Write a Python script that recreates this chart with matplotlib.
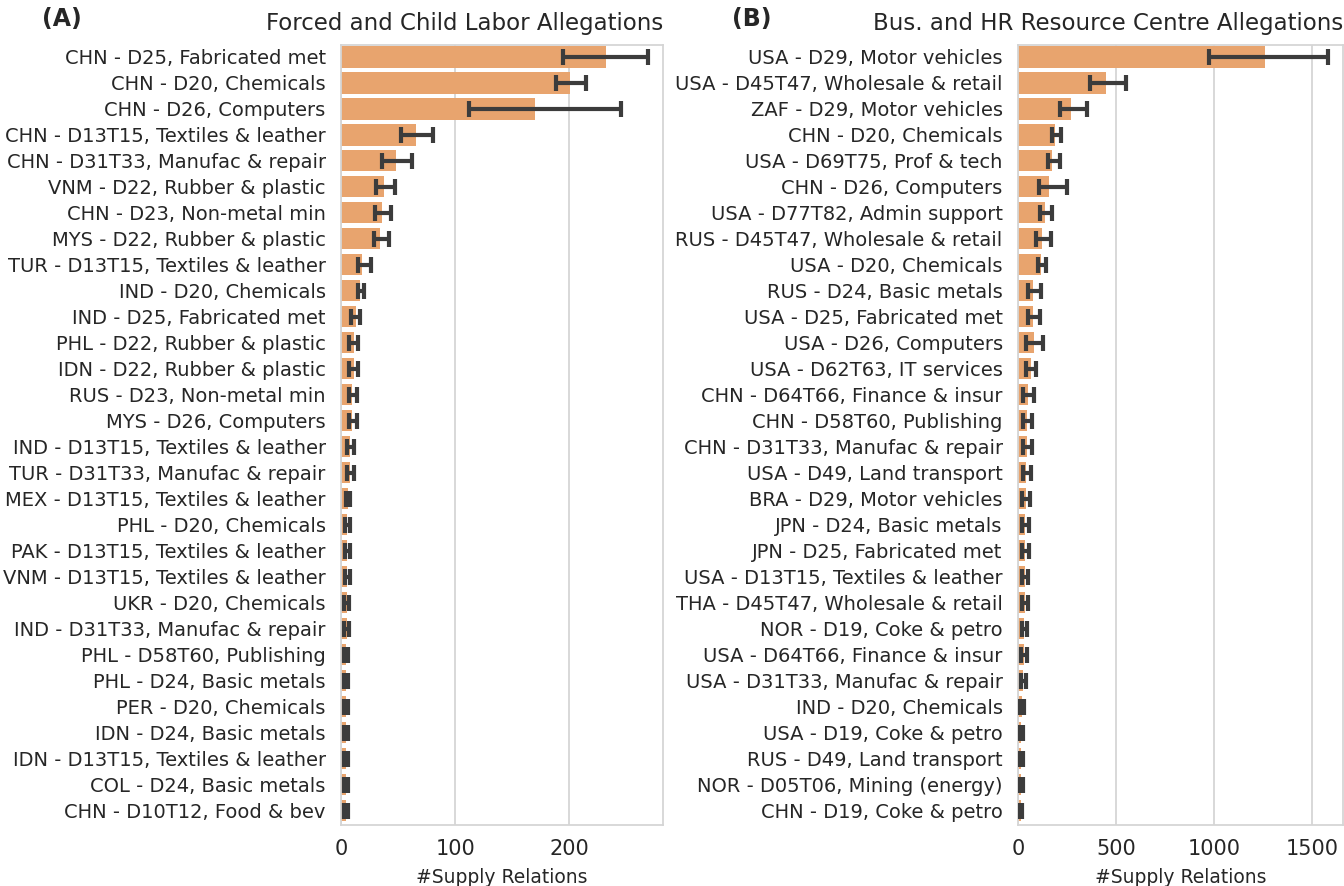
"""
Supply relations per country-sector for two allegation types.
"""

import matplotlib
matplotlib.use("Agg")
import matplotlib.pyplot as plt
import numpy as np

# --- panel A: forced and child labor allegations ---
labels_a = [
    "CHN - D25, Fabricated met", "CHN - D20, Chemicals", "CHN - D26, Computers",
    "CHN - D13T15, Textiles & leather", "CHN - D31T33, Manufac & repair",
    "VNM - D22, Rubber & plastic", "CHN - D23, Non-metal min",
    "MYS - D22, Rubber & plastic", "TUR - D13T15, Textiles & leather",
    "IND - D20, Chemicals", "IND - D25, Fabricated met",
    "PHL - D22, Rubber & plastic", "IDN - D22, Rubber & plastic",
    "RUS - D23, Non-metal min", "MYS - D26, Computers",
    "IND - D13T15, Textiles & leather", "TUR - D31T33, Manufac & repair",
    "MEX - D13T15, Textiles & leather", "PHL - D20, Chemicals",
    "PAK - D13T15, Textiles & leather", "VNM - D13T15, Textiles & leather",
    "UKR - D20, Chemicals", "IND - D31T33, Manufac & repair",
    "PHL - D58T60, Publishing", "PHL - D24, Basic metals",
    "PER - D20, Chemicals", "IDN - D24, Basic metals",
    "IDN - D13T15, Textiles & leather", "COL - D24, Basic metals",
    "CHN - D10T12, Food & bev",
]
values_a = [232, 201, 170, 66, 48, 38, 36, 34, 18, 17, 13, 11, 11, 10, 10,
            8, 8, 6, 5.5, 5.5, 5.5, 5, 5, 4.5, 4.5, 4.5, 4.5, 4, 4, 4]
ci_lo_a = [194, 188, 112, 53, 36, 31, 30, 29, 15, 15, 9, 7, 7, 7, 7,
           5, 5, 4, 3.5, 3.5, 3.5, 3, 3, 3, 3, 3, 3, 2.5, 2.5, 2.5]
ci_hi_a = [269, 215, 245, 81, 62, 47, 44, 42, 26, 20, 17, 15, 15, 14, 14,
           11, 11, 8, 7.5, 7.5, 7.5, 7, 7, 6.5, 6.5, 6.5, 6.5, 6, 6, 6]

# --- panel B: business and human rights resource centre allegations ---
labels_b = [
    "USA - D29, Motor vehicles", "USA - D45T47, Wholesale & retail",
    "ZAF - D29, Motor vehicles", "CHN - D20, Chemicals",
    "USA - D69T75, Prof & tech", "CHN - D26, Computers",
    "USA - D77T82, Admin support", "RUS - D45T47, Wholesale & retail",
    "USA - D20, Chemicals", "RUS - D24, Basic metals",
    "USA - D25, Fabricated met", "USA - D26, Computers",
    "USA - D62T63, IT services", "CHN - D64T66, Finance & insur",
    "CHN - D58T60, Publishing", "CHN - D31T33, Manufac & repair",
    "USA - D49, Land transport", "BRA - D29, Motor vehicles",
    "JPN - D24, Basic metals", "JPN - D25, Fabricated met",
    "USA - D13T15, Textiles & leather", "THA - D45T47, Wholesale & retail",
    "NOR - D19, Coke & petro", "USA - D64T66, Finance & insur",
    "USA - D31T33, Manufac & repair", "IND - D20, Chemicals",
    "USA - D19, Coke & petro", "RUS - D49, Land transport",
    "NOR - D05T06, Mining (energy)", "CHN - D19, Coke & petro",
]
values_b = [1261, 447, 269, 190, 175, 160, 140, 125, 118, 78, 75, 80, 65,
            50, 48, 45, 43, 40, 38, 36, 35, 34, 33, 30, 28, 20, 18, 17, 16, 14]
ci_lo_b = [975, 366, 213, 175, 152, 107, 114, 94, 101, 51, 51, 43, 43,
           25, 28, 25, 25, 22, 22, 20, 20, 20, 19, 17, 15, 10, 9, 9, 8, 7]
ci_hi_b = [1580, 554, 350, 222, 213, 250, 176, 171, 142, 120, 112, 128, 94,
           80, 70, 70, 65, 62, 58, 55, 52, 50, 48, 45, 42, 32, 28, 27, 25, 22]

BAR_COLOR = "#E8A46E"
ERR_COLOR = "#3c3c3c"
TEXT_COLOR = "#262626"


def draw_panel(ax, labels, values, lo, hi, title, xmax, ticks):
    y = np.arange(len(labels))
    vals = np.array(values, dtype=float)
    xerr = [vals - np.array(lo), np.array(hi) - vals]
    ax.barh(y, vals, height=0.82, color=BAR_COLOR, zorder=2)
    ax.errorbar(vals, y, xerr=xerr, fmt="none", ecolor=ERR_COLOR,
                elinewidth=3, capsize=6, capthick=3, zorder=3)
    ax.set_yticks(y)
    ax.set_yticklabels(labels, fontsize=14, color=TEXT_COLOR)
    ax.set_ylim(len(labels) - 0.45, -0.45)
    ax.set_xlim(0, xmax)
    ax.set_xticks(ticks)
    ax.tick_params(axis="x", labelsize=15, colors=TEXT_COLOR, length=0, pad=10)
    ax.tick_params(axis="y", length=0, pad=11)
    ax.set_xlabel("#Supply Relations", fontsize=13.5, color=TEXT_COLOR, labelpad=7)
    ax.set_title(title, loc="right", fontsize=16.5, color=TEXT_COLOR, pad=11)
    ax.grid(axis="x", color="#d5d5d5", linewidth=1.3, zorder=0)
    ax.set_axisbelow(True)
    for s in ax.spines.values():
        s.set_color("#d5d5d5")
        s.set_linewidth(1.3)


fig = plt.figure(figsize=(13.44, 8.86), dpi=100)
ax_a = fig.add_axes([0.2537, 0.069, 0.2396, 0.880])
ax_b = fig.add_axes([0.7574, 0.069, 0.2420, 0.880])

draw_panel(ax_a, labels_a, values_a, ci_lo_a, ci_hi_a,
           "Forced and Child Labor Allegations", 282, [0, 100, 200])
draw_panel(ax_b, labels_b, values_b, ci_lo_b, ci_hi_b,
           "Bus. and HR Resource Centre Allegations", 1660, [0, 500, 1000, 1500])

fig.text(0.046, 0.978, "(A)", fontsize=17, fontweight="bold", color=TEXT_COLOR,
         ha="center", va="center")
fig.text(0.559, 0.978, "(B)", fontsize=17, fontweight="bold", color=TEXT_COLOR,
         ha="center", va="center")

fig.savefig("out.png", dpi=100)
